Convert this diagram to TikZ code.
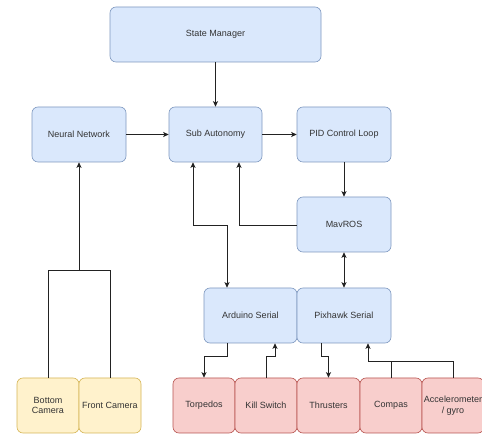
\documentclass[tikz,border=0pt]{standalone}
\usepackage{fontspec}
\setmainfont{Liberation Sans}
\usetikzlibrary{arrows.meta}
\definecolor{bfill}{HTML}{DAE8FC}
\definecolor{bline}{HTML}{7E98C0}
\definecolor{yfill}{HTML}{FFF2CC}
\definecolor{yline}{HTML}{D6B656}
\definecolor{rfill}{HTML}{F8CECC}
\definecolor{rline}{HTML}{B85450}
\definecolor{lcol}{HTML}{222222}
\begin{document}
\begin{tikzpicture}[x=1pt,y=-1pt,
  box/.style={rounded corners=6pt, line width=0.6pt, align=center, inner sep=1pt,
    font=\fontsize{9}{10.5}\selectfont, text=black!80},
  bluebox/.style={box, fill=bfill, draw=bline},
  yelbox/.style={box, fill=yfill, draw=yline},
  redbox/.style={box, fill=rfill, draw=rline},
  wire/.style={draw=lcol, line width=0.8pt},
  conn/.style={wire, -{Stealth[length=5.5pt,width=5pt,inset=1.2pt]}},
  conn2/.style={wire, {Stealth[length=5.5pt,width=5pt,inset=1.2pt]}-{Stealth[length=5.5pt,width=5pt,inset=1.2pt]}}
]
\clip (0,0) rectangle (482,435);
\fill[white] (0,0) rectangle (482,435);

% blue boxes
\node[bluebox, minimum width=211pt, minimum height=55pt] (sm) at (215.5,34.5) {State Manager};
\node[bluebox, minimum width=94pt, minimum height=55pt] (nn) at (79,134.5) {Neural Network};
\node[bluebox, minimum width=93pt, minimum height=55pt] (sub) at (215.5,134.5) {Sub Autonomy};
\node[bluebox, minimum width=94pt, minimum height=55pt] (pid) at (344,134.5) {PID Control Loop};
\node[bluebox, minimum width=94pt, minimum height=55pt] (mav) at (344,224.5) {MavROS};
\node[bluebox, minimum width=93pt, minimum height=55pt] (ard) at (250.5,315.5) {Arduino Serial};
\node[bluebox, minimum width=94pt, minimum height=55pt] (pix) at (344,315.5) {Pixhawk Serial};

% yellow boxes
\node[yelbox, minimum width=62pt, minimum height=55pt] (bc) at (48,405.5) {Bottom\\Camera};
\node[yelbox, minimum width=62pt, minimum height=55pt] (fc) at (110,405.5) {Front Camera};

% red boxes
\node[redbox, minimum width=62pt, minimum height=55pt] (torp) at (204,405.5) {Torpedos};
\node[redbox, minimum width=62pt, minimum height=55pt] (kill) at (266,405.5) {Kill Switch};
\node[redbox, minimum width=63pt, minimum height=55pt] (thr) at (328.5,405.5) {Thrusters};
\node[redbox, minimum width=62pt, minimum height=55pt] (comp) at (391,405.5) {Compas};
\node[redbox, minimum width=62pt, minimum height=55pt] (acc) at (453,405.5) {Accelerometer\\/ gyro};

% helper coordinates
\coordinate (cj) at (79,270);
\coordinate (sa) at (193,225);
\coordinate (ak) at (227,225);
\coordinate (mk) at (239,225);
\coordinate (t1) at (227,356);
\coordinate (t2) at (204,356);
\coordinate (k2) at (275,356);
\coordinate (p1) at (321,356);
\coordinate (c1) at (368,361);

% connectors
\draw[conn] (sm) -- (sub);
\draw[conn] (nn) -- (sub);
\draw[conn] (sub) -- (pid);
\draw[conn] (pid) -- (mav);
\draw[conn2] (mav) -- (pix);

\draw[wire] (bc.north) -- (bc.north |- cj) -- (fc.north |- cj) -- (fc.north);
\draw[conn] (cj) -- (nn.south);

\draw[conn2] (sub.south -| sa) -- (sa) -- (ak) -- (ard.north -| ak);
\draw[conn] (mav.west |- mk) -- (mk) -- (sub.south -| mk);

\draw[conn] (ard.south -| t1) -- (t1) -- (t2) -- (torp.north);
\draw[conn] (kill.north) -- (kill.north |- k2) -- (k2) -- (ard.south -| k2);
\draw[conn] (pix.south -| p1) -- (p1) -- (p1 -| thr.north) -- (thr.north);
\draw[wire] (comp.north) -- (comp.north |- c1);
\draw[conn] (acc.north) -- (acc.north |- c1) -- (c1) -- (pix.south -| c1);
\end{tikzpicture}
\end{document}
